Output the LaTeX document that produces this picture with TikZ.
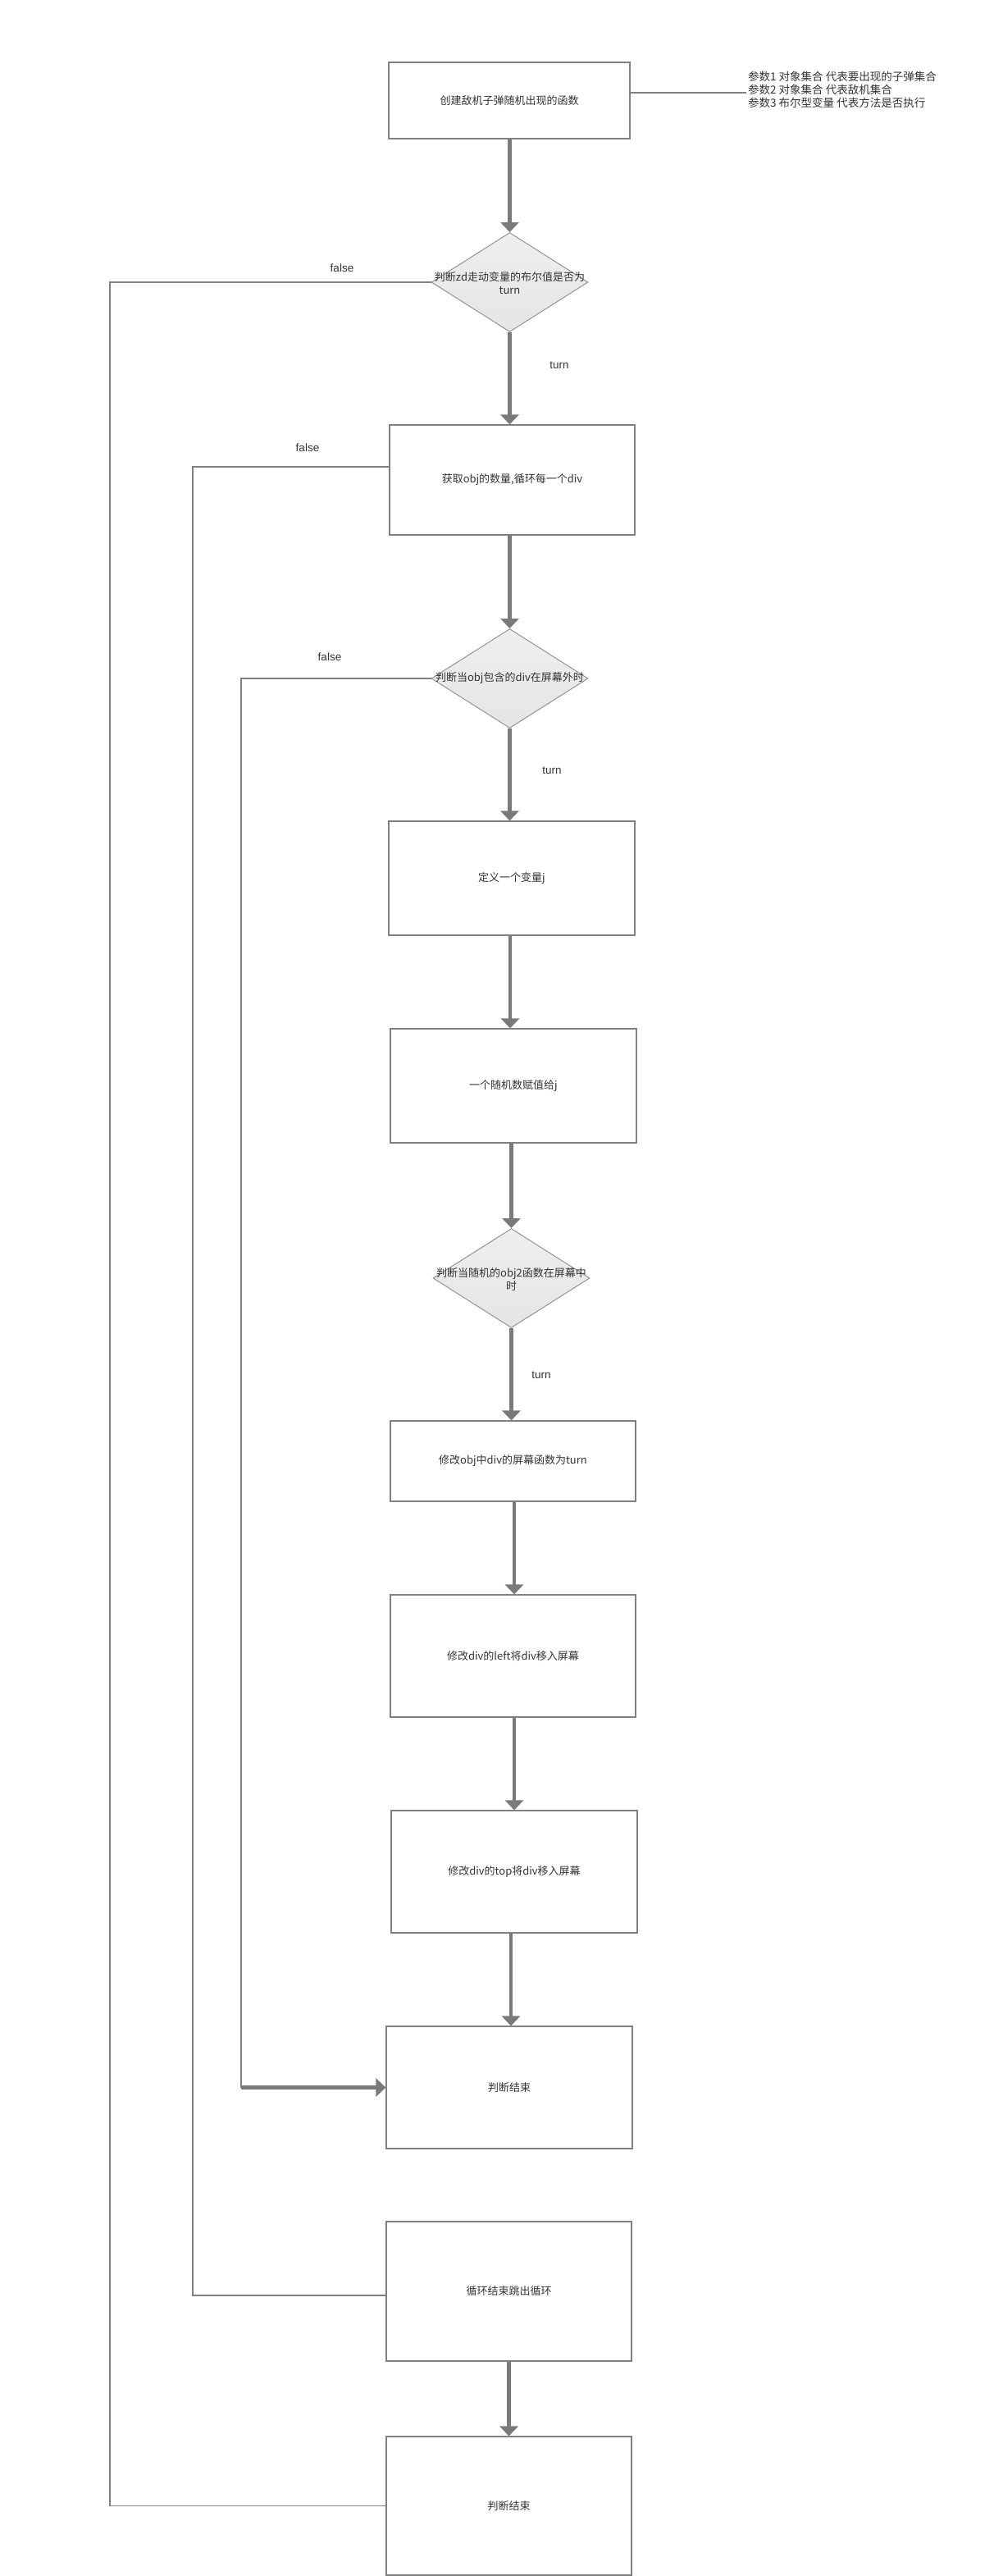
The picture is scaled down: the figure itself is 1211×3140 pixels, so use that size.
\documentclass[tikz,border=0pt]{standalone}
\usepackage{fontspec}
\setmainfont{Noto Sans CJK SC}
\newfontfamily\lat{Liberation Sans}
\usetikzlibrary{shapes.geometric,arrows.meta}
\definecolor{ln}{HTML}{808080}
\definecolor{ar}{HTML}{7A7A7A}
\definecolor{txt}{HTML}{333333}
\definecolor{bd}{HTML}{808080}
\definecolor{dtop}{HTML}{EFEFEF}
\definecolor{dbot}{HTML}{E5E5E5}
\begin{document}
\begin{tikzpicture}[x=1pt,y=-1pt,
 box/.style={draw=bd,line width=1.1pt,fill=white,rectangle,inner sep=0pt,text=txt,font=\fontsize{13}{16}\selectfont},
 dia/.style={draw=bd!85,line width=1pt,diamond,inner sep=0pt,top color=dtop,bottom color=dbot,minimum width=191pt,minimum height=121pt},
 dtext/.style={text=txt,font=\fontsize{13}{16}\selectfont,align=center,inner sep=0pt},
 arr/.style={draw=ar,line width=4.5pt,-{Triangle[width=22pt,length=12pt]}},
 wire/.style={draw=ln,line width=1.1pt},
 lbl/.style={text=txt,font=\lat\fontsize{13.5}{16}\selectfont,inner sep=0pt}]
\useasboundingbox[fill=white] (0,0) rectangle (1211,3140);

% boxes
\node[box,minimum width=294pt,minimum height=93pt] (b1) at (621,122.5) {创建敌机子弹随机出现的函数};
\node[box,minimum width=299pt,minimum height=134pt] (b2) at (624.5,585) {获取obj的数量,循环每一个div};
\node[box,minimum width=300pt,minimum height=139pt] (b3) at (624,1070.5) {定义一个变量j};
\node[box,minimum width=300pt,minimum height=139pt] (b4) at (626,1323.5) {一个随机数赋值给j};
\node[box,minimum width=299pt,minimum height=98pt] (b5) at (625.5,1781) {修改obj中div的屏幕函数为turn};
\node[box,minimum width=299pt,minimum height=149pt] (b6) at (625.5,2018.5) {修改div的left将div移入屏幕};
\node[box,minimum width=300pt,minimum height=149pt] (b7) at (627,2281.5) {修改div的top将div移入屏幕};
\node[box,minimum width=300pt,minimum height=149pt] (b8) at (621,2544.5) {判断结束};
\node[box,minimum width=299pt,minimum height=170pt] (b9) at (620.5,2793) {循环结束跳出循环};
\node[box,minimum width=299pt,minimum height=169pt] (b10) at (620.5,3054.5) {判断结束};

% diamonds
\node[dia] (d1) at (621.5,344) {};
\node[dtext] (d1t) at (621.5,345) {判断zd走动变量的布尔值是否为\\turn};
\node[dia] (d2) at (621.5,827) {};
\node[dtext] (d2t) at (621.5,827) {判断当obj包含的div在屏幕外时};
\node[dia] (d3) at (623.5,1558) {};
\node[dtext] (d3t) at (623.5,1559) {判断当随机的obj2函数在屏幕中\\时};

% annotation
\node[text=txt,font=\fontsize{13.5}{16}\selectfont,align=left,anchor=west,inner sep=0pt] (note) at (912,109)
 {参数1 对象集合 代表要出现的子弹集合\\参数2 对象集合 代表敌机集合\\参数3 布尔型变量 代表方法是否执行};
\coordinate (nl) at (910,113);
\draw[wire] (b1.east |- nl) -- (nl);

% labels
\node[lbl] (f1) at (417,327) {false};
\node[lbl] (f2) at (375,546) {false};
\node[lbl] (f3) at (402,801) {false};
\node[lbl] (t1) at (682,445) {turn};
\node[lbl] (t2) at (673,939) {turn};
\node[lbl] (t3) at (660,1676) {turn};

% main arrows
\draw[arr] (b1.south -| d1.north) -- (d1.north);
\draw[arr] (d1.south) -- (d1.south |- b2.north);
\draw[arr] (d1.south |- b2.south) -- (d2.north);
\draw[arr] (d2.south) -- (d2.south |- b3.north);
\draw[arr] ([xshift=-2pt]b3.south) -- ([xshift=-2pt]b3.south |- b4.north);
\draw[arr] (d3.north |- b4.south) -- (d3.north);
\draw[arr] (d3.south) -- (d3.south |- b5.north);
\draw[arr] ([xshift=1.5pt]b5.south) -- ([xshift=1.5pt]b5.south |- b6.north);
\draw[arr] ([xshift=1.5pt]b6.south) -- ([xshift=1.5pt]b6.south |- b7.north);
\draw[arr] ([xshift=2pt]b8.north |- b7.south) -- ([xshift=2pt]b8.north);
\draw[arr] (b9.south) -- (b10.north);

% false branches
\coordinate (c1) at (134,0);
\draw[wire] (d1.west) -| (c1 |- b10.west) -- (b10.west);
\coordinate (b2w) at ([yshift=16pt]b2.west);
\coordinate (b9w) at ([yshift=-5pt]b9.west);
\coordinate (c2) at (235,0);
\draw[wire] (b2w) -| (c2 |- b9w) -- (b9w);
\coordinate (c3) at (294,2544.5);
\draw[wire] (d2.west) -| (c3);
\draw[arr] (c3) -- (b8.west);
\end{tikzpicture}
\end{document}
